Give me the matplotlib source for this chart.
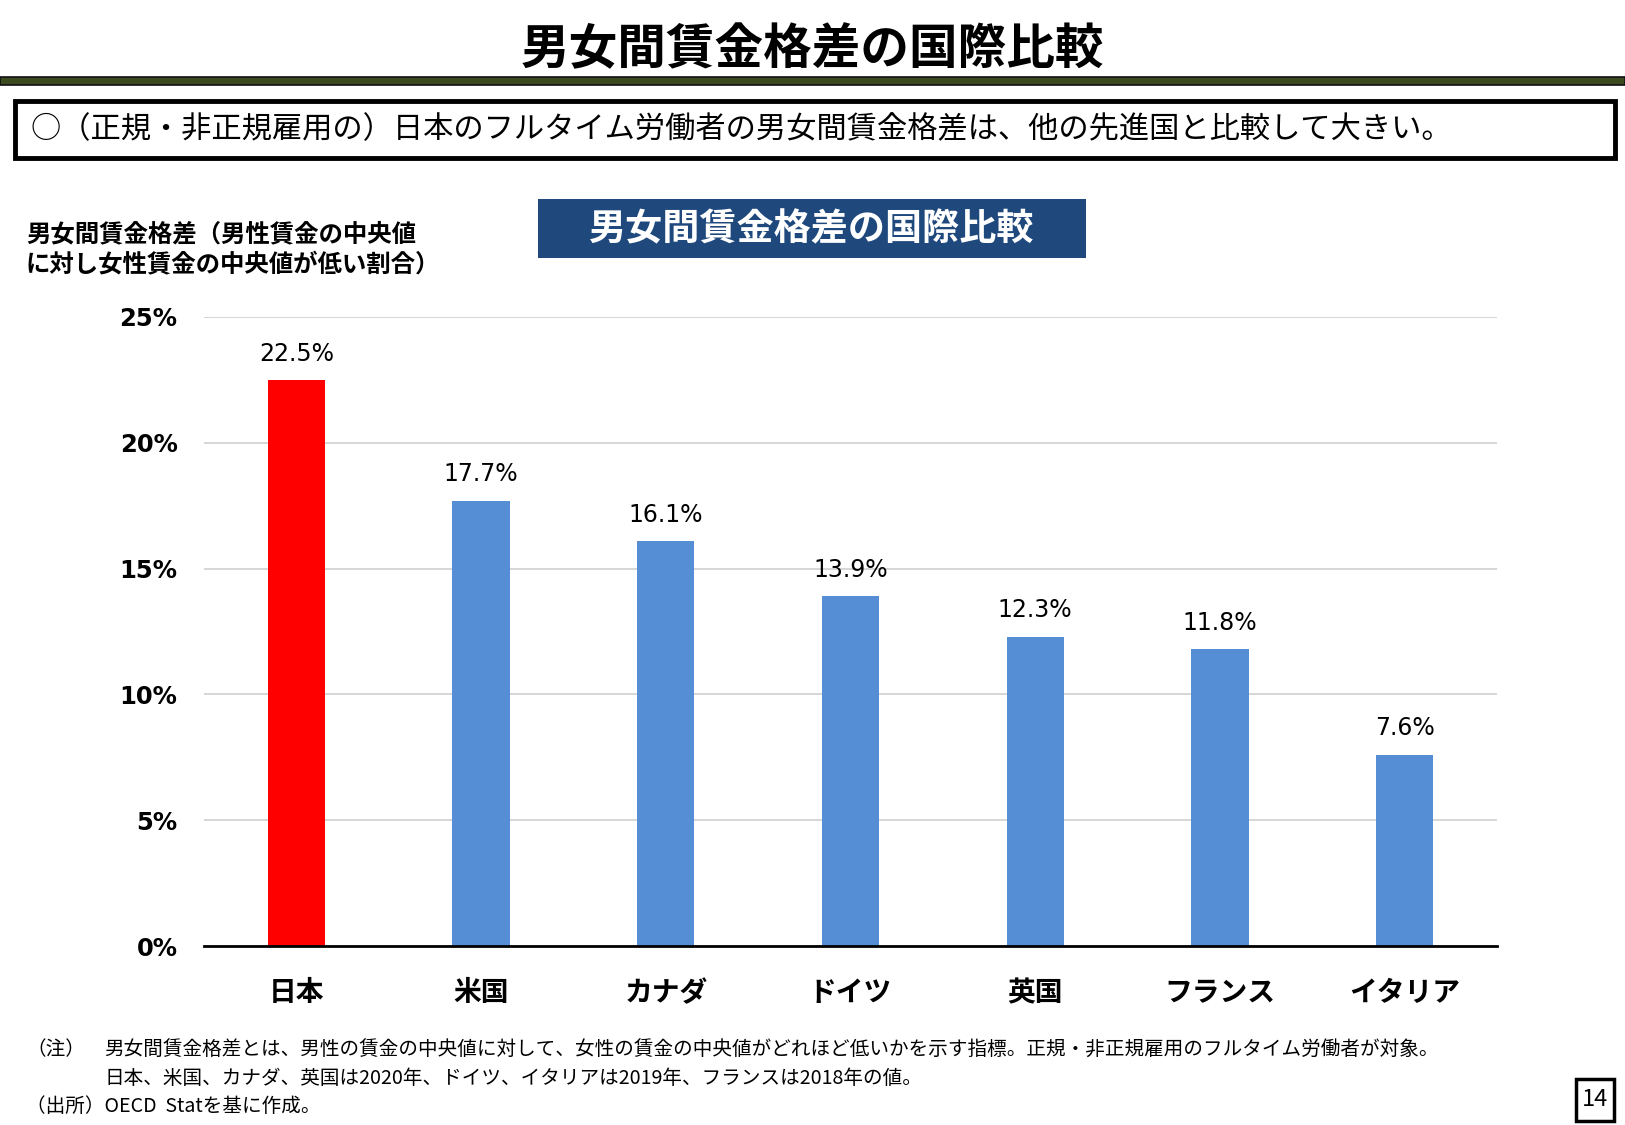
import matplotlib
matplotlib.use("Agg")
import matplotlib.pyplot as plt
from matplotlib.patches import Rectangle

plt.rcParams["font.family"] = ["Noto Sans CJK JP", "DejaVu Sans"]

# data
countries = ["日本", "米国", "カナダ", "ドイツ", "英国", "フランス", "イタリア"]
gap_pct = [22.5, 17.7, 16.1, 13.9, 12.3, 11.8, 7.6]
bar_colors = ["#FF0000", "#558ED5", "#558ED5", "#558ED5", "#558ED5", "#558ED5", "#558ED5"]
y_ticks = [0, 5, 10, 15, 20, 25]

W, H = 1625, 1125
fig = plt.figure(figsize=(W / 100, H / 100), dpi=100)


def fx(px):
    return px / W


def fy(py):
    return 1 - py / H


# page header
fig.text(0.5, fy(50), "男女間賃金格差の国際比較", ha="center", va="center",
         fontsize=35, fontweight="bold")
fig.add_artist(Rectangle((0, fy(85)), 1, (85 - 77) / H, transform=fig.transFigure,
                         facecolor="#3B4A1F", edgecolor="#111111", linewidth=1.2))

# summary box
fig.add_artist(Rectangle((fx(15), fy(158)), fx(1615 - 15), (158 - 101) / H,
                         transform=fig.transFigure, facecolor="white",
                         edgecolor="black", linewidth=3.5))
fig.text(fx(30), fy(130), "○（正規・非正規雇用の）日本のフルタイム労働者の男女間賃金格差は、他の先進国と比較して大きい。",
         ha="left", va="center", fontsize=21.8)

# chart title box
fig.add_artist(Rectangle((fx(538), fy(258)), fx(1086 - 538), (258 - 199) / H,
                         transform=fig.transFigure, facecolor="#1F497D", edgecolor="none"))
fig.text(fx(812), fy(230), "男女間賃金格差の国際比較", ha="center", va="center",
         fontsize=26.7, fontweight="bold", color="white")

# y-axis caption
fig.text(fx(26), fy(234), "男女間賃金格差（男性賃金の中央値", ha="left", va="center",
         fontsize=17.6, fontweight="bold")
fig.text(fx(26), fy(265), "に対し女性賃金の中央値が低い割合）", ha="left", va="center",
         fontsize=17.6, fontweight="bold")

# chart
ax = fig.add_axes([fx(204), fy(946), fx(1497 - 204), (946 - 317) / H])
x = range(len(countries))
bars = ax.bar(x, gap_pct, width=0.31, color=bar_colors, zorder=2)
for rect, v in zip(bars, gap_pct):
    ax.annotate(f"{v:.1f}%", (rect.get_x() + rect.get_width() / 2, v),
                xytext=(0, 19), textcoords="offset points",
                ha="center", va="center", fontsize=17, family="DejaVu Sans")

ax.set_xlim(-0.5, len(countries) - 0.5)
ax.set_ylim(0, 25)
ax.set_yticks(y_ticks)
ax.set_yticklabels([f"{t}%" for t in y_ticks], fontsize=17.5, fontweight="bold",
                   family="DejaVu Sans")
ax.set_xticks(list(x))
ax.set_xticklabels(countries, fontsize=20, fontweight="bold")
ax.tick_params(axis="y", length=0, pad=19)
ax.tick_params(axis="x", length=0, pad=24)
ax.grid(axis="y", color="#D0D0D0", linewidth=1.2, zorder=0)
for side in ["left", "right", "top"]:
    ax.spines[side].set_visible(False)
ax.spines["bottom"].set_linewidth(2)
ax.spines["bottom"].set_zorder(3)

# notes
note_size = 14.1
fig.text(fx(26), fy(1050), "（注）", ha="left", va="center", fontsize=note_size)
fig.text(fx(104), fy(1050),
         "男女間賃金格差とは、男性の賃金の中央値に対して、女性の賃金の中央値がどれほど低いかを示す指標。正規・非正規雇用のフルタイム労働者が対象。",
         ha="left", va="center", fontsize=note_size)
fig.text(fx(104), fy(1078),
         "日本、米国、カナダ、英国は2020年、ドイツ、イタリアは2019年、フランスは2018年の値。",
         ha="left", va="center", fontsize=note_size)
fig.text(fx(26), fy(1106), "（出所）OECD  Statを基に作成。", ha="left", va="center",
         fontsize=note_size)

# page number
fig.add_artist(Rectangle((fx(1576), fy(1121)), fx(1614 - 1576), (1121 - 1079) / H,
                         transform=fig.transFigure, facecolor="white",
                         edgecolor="black", linewidth=2.5))
fig.text(fx(1595), fy(1100), "14", ha="center", va="center", fontsize=17)

fig.savefig("out.png", dpi=100)
